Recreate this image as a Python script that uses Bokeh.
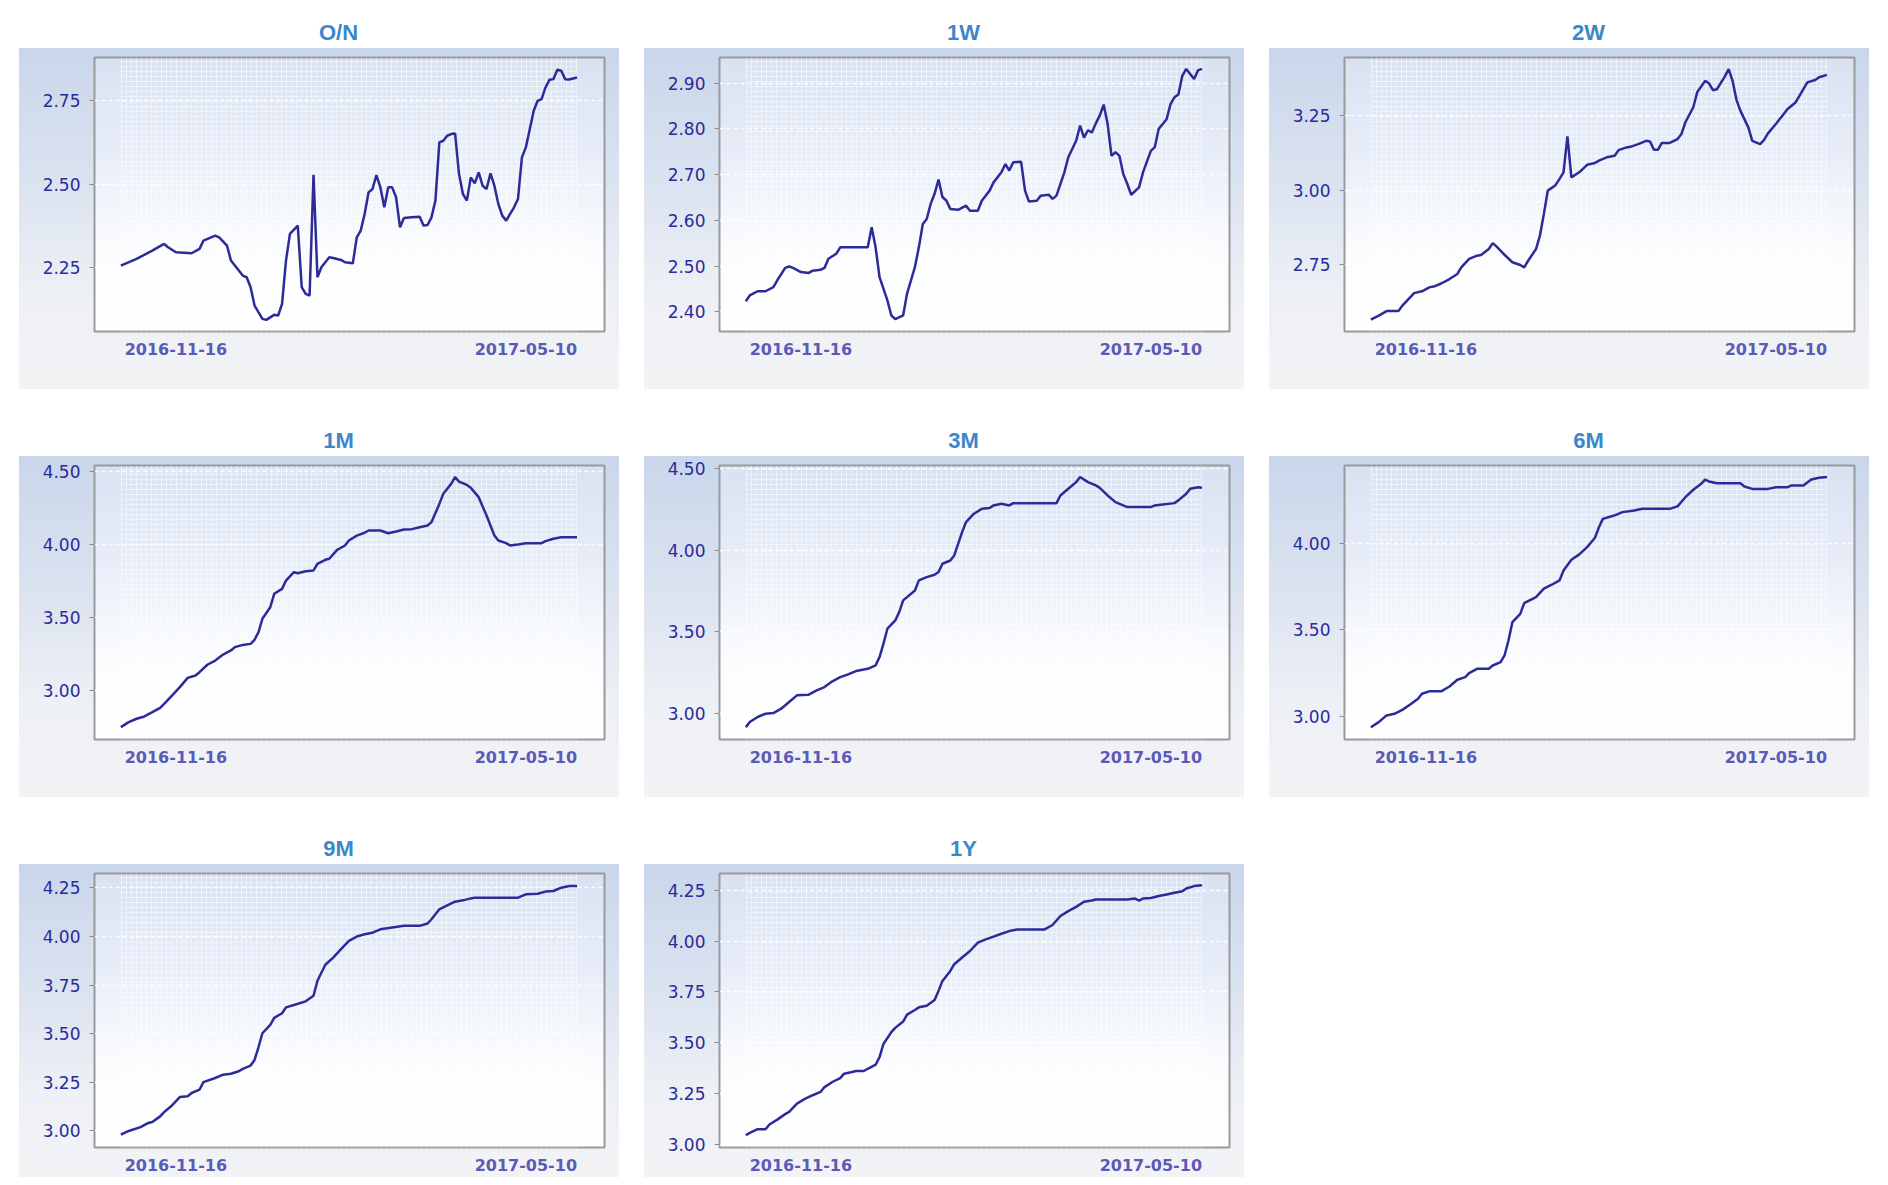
from bokeh.layouts import column, row
from bokeh.models import Range1d, FixedTicker, BoxAnnotation, NumeralTickFormatter
from bokeh.plotting import figure
from bokeh.embed import file_html
from bokeh.resources import INLINE

# ---------------- data ----------------
FIRST_DATE = "2016-11-16"
LAST_DATE = "2017-05-10"
LAST_DAY = 116  # trading-day index of 2017-05-10

on_day = [0, 4, 8, 11, 12, 14, 18, 20, 21, 24, 25, 27, 28, 30, 31, 32, 33, 34, 36, 37, 39, 40, 41, 42, 43, 45,
          46, 47, 48, 49, 50, 51, 53, 54, 56, 57, 59, 60, 61, 62, 63, 64, 65, 66, 67, 68, 69, 70, 71, 72, 74, 76,
          77, 78, 79, 80, 81, 82, 83, 84, 85, 86, 87, 88, 89, 90, 91, 92, 93, 94, 95, 96, 97, 98, 99, 100, 101,
          102, 103, 105, 106, 107, 108, 109, 110, 111, 112, 113, 114, 116]
on_val = [2.255, 2.275, 2.300, 2.320, 2.310, 2.295, 2.292, 2.305, 2.330, 2.345, 2.340, 2.315, 2.270, 2.240,
          2.225, 2.220, 2.190, 2.135, 2.095, 2.092, 2.107, 2.105, 2.140, 2.270, 2.350, 2.375, 2.190, 2.170,
          2.165, 2.528, 2.220, 2.250, 2.280, 2.278, 2.272, 2.265, 2.262, 2.340, 2.360, 2.410, 2.475, 2.485,
          2.527, 2.490, 2.430, 2.490, 2.490, 2.460, 2.370, 2.398, 2.400, 2.402, 2.375, 2.377, 2.400, 2.450,
          2.625, 2.630, 2.645, 2.650, 2.652, 2.530, 2.470, 2.450, 2.520, 2.502, 2.535, 2.495, 2.485, 2.532,
          2.495, 2.440, 2.405, 2.390, 2.410, 2.430, 2.455, 2.580, 2.610, 2.720, 2.750, 2.755, 2.790, 2.813,
          2.815, 2.843, 2.840, 2.815, 2.814, 2.820]

w1_day = [0, 1, 3, 5, 7, 8, 10, 11, 12, 14, 16, 17, 19, 20, 21, 23, 24, 26, 29, 31, 32, 33, 34, 36, 37, 38, 40,
          41, 43, 44, 45, 46, 47, 48, 49, 50, 51, 52, 54, 56, 57, 59, 60, 62, 63, 65, 66, 67, 68, 70, 71, 72, 74,
          75, 77, 78, 79, 81, 82, 84, 85, 86, 87, 88, 89, 90, 91, 92, 93, 94, 95, 96, 97, 98, 100, 101, 103, 104,
          105, 107, 108, 109, 110, 111, 112, 114, 115, 116]
w1_val = [2.423, 2.436, 2.445, 2.445, 2.454, 2.469, 2.496, 2.499, 2.496, 2.487, 2.485, 2.490, 2.492, 2.496,
          2.516, 2.527, 2.541, 2.541, 2.541, 2.541, 2.585, 2.541, 2.476, 2.425, 2.392, 2.384, 2.392, 2.440,
          2.498, 2.541, 2.592, 2.603, 2.636, 2.658, 2.689, 2.651, 2.643, 2.625, 2.623, 2.632, 2.621, 2.621,
          2.643, 2.665, 2.683, 2.705, 2.723, 2.709, 2.727, 2.728, 2.665, 2.641, 2.643, 2.654, 2.656, 2.647,
          2.654, 2.705, 2.738, 2.774, 2.807, 2.781, 2.797, 2.792, 2.812, 2.829, 2.853, 2.811, 2.741, 2.749,
          2.741, 2.701, 2.680, 2.656, 2.672, 2.705, 2.752, 2.760, 2.800, 2.821, 2.854, 2.869, 2.875, 2.916,
          2.931, 2.909, 2.928, 2.931]

w2_day = [0, 2, 4, 7, 8, 10, 11, 13, 15, 16, 18, 20, 22, 23, 25, 27, 28, 30, 31, 32, 34, 36, 38, 39, 40, 42, 43,
          44, 45, 46, 47, 48, 49, 50, 51, 53, 55, 57, 58, 60, 62, 63, 65, 66, 68, 70, 71, 72, 73, 74, 76, 78, 79,
          80, 82, 83, 85, 86, 87, 88, 90, 91, 92, 93, 94, 96, 97, 99, 100, 101, 103, 104, 106, 108, 109, 111,
          113, 114, 116]
w2_val = [2.568, 2.581, 2.596, 2.596, 2.614, 2.642, 2.656, 2.662, 2.676, 2.678, 2.689, 2.703, 2.720, 2.742,
          2.770, 2.781, 2.783, 2.803, 2.823, 2.811, 2.784, 2.759, 2.750, 2.742, 2.764, 2.803, 2.848, 2.920,
          2.998, 3.007, 3.017, 3.037, 3.059, 3.179, 3.042, 3.059, 3.084, 3.090, 3.098, 3.109, 3.114, 3.133,
          3.142, 3.144, 3.153, 3.164, 3.162, 3.134, 3.134, 3.157, 3.157, 3.170, 3.187, 3.226, 3.276, 3.326,
          3.364, 3.356, 3.333, 3.336, 3.378, 3.403, 3.364, 3.300, 3.264, 3.209, 3.164, 3.153, 3.167, 3.189,
          3.220, 3.237, 3.270, 3.292, 3.314, 3.359, 3.367, 3.376, 3.384]

m1_day = [0, 2, 4, 6, 8, 10, 11, 13, 15, 17, 19, 20, 22, 24, 26, 28, 29, 31, 33, 34, 35, 36, 38, 39, 41, 42, 44,
          45, 47, 49, 50, 52, 53, 55, 57, 58, 60, 62, 63, 66, 68, 70, 72, 74, 76, 78, 79, 81, 82, 84, 85, 86, 88,
          89, 91, 93, 95, 96, 98, 99, 101, 103, 107, 108, 110, 112, 116]
m1_val = [2.747, 2.781, 2.804, 2.820, 2.849, 2.879, 2.906, 2.963, 3.021, 3.084, 3.100, 3.123, 3.174, 3.203,
          3.244, 3.272, 3.295, 3.310, 3.317, 3.345, 3.397, 3.489, 3.568, 3.660, 3.694, 3.751, 3.808, 3.801,
          3.815, 3.820, 3.865, 3.893, 3.900, 3.961, 3.991, 4.025, 4.059, 4.078, 4.094, 4.094, 4.075, 4.087,
          4.100, 4.103, 4.116, 4.128, 4.151, 4.276, 4.345, 4.413, 4.459, 4.429, 4.406, 4.386, 4.322, 4.196,
          4.059, 4.025, 4.007, 3.991, 3.998, 4.007, 4.007, 4.021, 4.037, 4.048, 4.048]

m3_day = [0, 1, 3, 5, 7, 9, 11, 13, 16, 18, 20, 22, 24, 26, 28, 31, 33, 34, 35, 36, 38, 39, 40, 41, 43, 44, 46,
          48, 49, 50, 52, 53, 55, 56, 58, 60, 62, 63, 65, 67, 68, 71, 75, 79, 80, 82, 84, 85, 87, 89, 90, 92, 94,
          97, 100, 103, 104, 106, 109, 110, 112, 113, 115, 116]
m3_val = [2.914, 2.945, 2.976, 2.996, 3.000, 3.027, 3.068, 3.109, 3.113, 3.139, 3.160, 3.195, 3.221, 3.238,
          3.258, 3.272, 3.293, 3.344, 3.426, 3.518, 3.569, 3.620, 3.692, 3.712, 3.753, 3.815, 3.835, 3.849,
          3.866, 3.917, 3.937, 3.968, 4.111, 4.173, 4.224, 4.254, 4.259, 4.275, 4.285, 4.275, 4.289, 4.289,
          4.289, 4.289, 4.336, 4.377, 4.418, 4.449, 4.418, 4.398, 4.383, 4.336, 4.295, 4.265, 4.265, 4.265,
          4.275, 4.281, 4.289, 4.306, 4.347, 4.377, 4.387, 4.383]

m6_day = [0, 2, 4, 6, 8, 10, 12, 13, 15, 18, 20, 22, 24, 25, 27, 30, 31, 33, 34, 35, 36, 38, 39, 42, 44, 46, 48,
          49, 51, 53, 55, 57, 58, 59, 61, 62, 64, 67, 69, 73, 76, 78, 80, 82, 84, 85, 86, 88, 92, 94, 95, 97, 101,
          103, 106, 107, 110, 112, 114, 116]
m6_val = [2.938, 2.967, 3.006, 3.015, 3.038, 3.069, 3.102, 3.131, 3.146, 3.146, 3.173, 3.212, 3.227, 3.250,
          3.275, 3.275, 3.294, 3.313, 3.352, 3.438, 3.544, 3.592, 3.654, 3.688, 3.737, 3.760, 3.785, 3.842,
          3.904, 3.935, 3.977, 4.031, 4.092, 4.140, 4.154, 4.160, 4.179, 4.188, 4.198, 4.198, 4.198, 4.212,
          4.265, 4.308, 4.342, 4.367, 4.356, 4.346, 4.346, 4.346, 4.327, 4.313, 4.313, 4.323, 4.323, 4.333,
          4.333, 4.367, 4.377, 4.381]

m9_day = [0, 2, 5, 7, 8, 10, 11, 13, 15, 17, 18, 20, 21, 24, 26, 28, 30, 31, 33, 34, 35, 36, 38, 39, 41, 42, 44,
          47, 49, 50, 52, 54, 56, 58, 60, 62, 64, 66, 69, 72, 76, 78, 79, 81, 83, 85, 87, 89, 90, 94, 98, 101,
          103, 106, 108, 110, 112, 114, 116]
m9_val = [2.981, 3.000, 3.020, 3.041, 3.046, 3.075, 3.097, 3.131, 3.174, 3.178, 3.195, 3.212, 3.251, 3.272,
          3.289, 3.294, 3.307, 3.319, 3.336, 3.365, 3.430, 3.502, 3.545, 3.581, 3.605, 3.635, 3.647, 3.666,
          3.695, 3.772, 3.854, 3.891, 3.934, 3.977, 3.999, 4.011, 4.019, 4.036, 4.045, 4.054, 4.054, 4.066,
          4.088, 4.139, 4.159, 4.178, 4.185, 4.195, 4.199, 4.199, 4.199, 4.199, 4.216, 4.219, 4.230, 4.233,
          4.250, 4.259, 4.259]

y1_day = [0, 1, 3, 5, 6, 8, 10, 11, 13, 15, 17, 19, 20, 22, 24, 25, 27, 28, 30, 31, 33, 34, 35, 37, 38, 40, 41,
          43, 44, 46, 48, 49, 50, 52, 53, 55, 57, 59, 61, 63, 65, 67, 69, 73, 76, 78, 80, 82, 84, 86, 88, 89, 93,
          97, 99, 100, 101, 103, 105, 107, 109, 111, 112, 114, 116]
y1_val = [3.046, 3.057, 3.075, 3.075, 3.098, 3.122, 3.149, 3.160, 3.201, 3.224, 3.242, 3.258, 3.282, 3.307,
          3.326, 3.348, 3.356, 3.361, 3.361, 3.372, 3.392, 3.429, 3.494, 3.552, 3.573, 3.604, 3.638, 3.661,
          3.674, 3.682, 3.710, 3.755, 3.804, 3.853, 3.886, 3.919, 3.951, 3.992, 4.008, 4.022, 4.036, 4.049,
          4.057, 4.057, 4.057, 4.079, 4.123, 4.147, 4.168, 4.193, 4.199, 4.204, 4.204, 4.204, 4.209, 4.199,
          4.209, 4.212, 4.221, 4.229, 4.237, 4.245, 4.258, 4.270, 4.274]

titles = ["O/N", "1W", "2W", "1M", "3M", "6M", "9M", "1Y"]
y_lows = [2.057, 2.357, 2.528, 2.662, 2.838, 2.867, 2.915, 2.985]
y_highs = [2.880, 2.956, 3.442, 4.539, 4.520, 4.448, 4.323, 4.332]
y_ticks = [
    [2.25, 2.50, 2.75],
    [2.40, 2.50, 2.60, 2.70, 2.80, 2.90],
    [2.75, 3.00, 3.25],
    [3.00, 3.50, 4.00, 4.50],
    [3.00, 3.50, 4.00, 4.50],
    [3.00, 3.50, 4.00],
    [3.00, 3.25, 3.50, 3.75, 4.00, 4.25],
    [3.00, 3.25, 3.50, 3.75, 4.00, 4.25],
]
series_days = [on_day, w1_day, w2_day, m1_day, m3_day, m6_day, m9_day, y1_day]
series_vals = [on_val, w1_val, w2_val, m1_val, m3_val, m6_val, m9_val, y1_val]

# ---------------- layout / style ----------------
PAGE_MARGIN = 8
CELL_W = 625
ROW_H = 408
LAST_ROW_H = 353
FRAME_L, FRAME_W = 86, 510
FRAME_T, FRAME_H = 49, 274
PANEL_L, PANEL_T, PANEL_W, PANEL_H = 11, 40, 600, 341
X_START, X_END = -6.7, 123.0
PX_PER_DAY = FRAME_W / (X_END - X_START)
X_FIRST_TICK = round(55 / PX_PER_DAY)
X_LAST_TICK = LAST_DAY - round(52 / PX_PER_DAY)
LINE_COLOR = "#2b2b99"
TITLE_FONT_PX = 22
TITLE_CENTER_X = 330  # title centre, px from the cell's left edge
# Liberation Sans Bold advance widths (em) for the title glyphs
TITLE_EM = {"O": 0.778, "/": 0.278, "N": 0.722, "W": 0.944, "M": 0.833, "Y": 0.667,
            "1": 0.556, "2": 0.556, "3": 0.556, "6": 0.556, "9": 0.556}


def panel_styles(height):
    ph = min(PANEL_H, height - PANEL_T)
    return {
        "background-color": "#ffffff",
        "background-image": (
            "linear-gradient(to bottom, #d9e2f2 0%, #e7edf8 35%, #fbfcfe 70%, #ffffff 100%), "
            "linear-gradient(to bottom, #c9d6ea 0%, #dbe3f0 40%, #edf0f5 72%, #f3f3f5 100%)"
        ),
        "background-size": f"{FRAME_W}px {FRAME_H}px, {PANEL_W}px {ph}px",
        "background-position": f"{FRAME_L}px {FRAME_T}px, {PANEL_L}px {PANEL_T}px",
        "background-repeat": "no-repeat, no-repeat",
    }


def make_panel(i, height):
    p = figure(width=CELL_W, height=height,
               x_range=Range1d(X_START, X_END), y_range=Range1d(y_lows[i], y_highs[i]),
               output_backend="svg", toolbar_location=None, tools="",
               min_border_left=FRAME_L, min_border_right=CELL_W - FRAME_L - FRAME_W,
               min_border_top=FRAME_T, min_border_bottom=height - FRAME_T - FRAME_H,
               border_fill_color=None, background_fill_color=None,
               outline_line_color="#9a9a9a", outline_line_width=2,
               styles=panel_styles(height))

    # title
    tw = sum(TITLE_EM.get(c, 0.6) for c in titles[i]) * TITLE_FONT_PX
    p.title.text = titles[i]
    p.title.align = "left"
    p.title.offset = TITLE_CENTER_X - FRAME_L - tw / 2
    p.title.standoff = 22
    p.title.vertical_align = "top"
    p.title.text_font = "Liberation Sans"
    p.title.text_font_style = "bold"
    p.title.text_font_size = f"{TITLE_FONT_PX}px"
    p.title.text_color = "#3b88c8"

    # faint dotted texture over the data span
    p.add_layout(BoxAnnotation(left=0, right=LAST_DAY, fill_color=None, line_color=None,
                               hatch_pattern="+", hatch_color="white", hatch_alpha=0.45,
                               hatch_scale=5, hatch_weight=1, level="underlay"))

    p.line(series_days[i], series_vals[i], line_color=LINE_COLOR, line_width=2.5)

    ya = p.yaxis[0]
    ya.ticker = FixedTicker(ticks=y_ticks[i])
    ya.formatter = NumeralTickFormatter(format="0.00")
    ya.axis_line_color = None
    ya.major_tick_line_color = "#8d8d8d"
    ya.major_tick_out = 5
    ya.major_tick_in = 0
    ya.minor_tick_line_color = None
    ya.major_label_text_font = "DejaVu Sans"
    ya.major_label_text_font_size = "17px"
    ya.major_label_text_color = "#2a2a9c"
    ya.major_label_standoff = 9

    xa = p.xaxis[0]
    xa.ticker = FixedTicker(ticks=[X_FIRST_TICK, X_LAST_TICK])
    xa.major_label_overrides = {X_FIRST_TICK: FIRST_DATE, X_LAST_TICK: LAST_DATE}
    xa.axis_line_color = None
    xa.major_tick_line_color = None
    xa.minor_tick_line_color = None
    xa.major_tick_out = 0
    xa.major_tick_in = 0
    xa.major_label_text_font = "DejaVu Sans"
    xa.major_label_text_font_style = "bold"
    xa.major_label_text_font_size = "16px"
    xa.major_label_text_color = "#5a5ab9"
    xa.major_label_standoff = 11

    p.xgrid.visible = False
    p.ygrid.grid_line_color = "white"
    p.ygrid.grid_line_dash = "4 3"
    p.ygrid.grid_line_width = 1.5
    p.ygrid.grid_line_alpha = 0.9
    return p


panels = []
for i in range(8):
    h = LAST_ROW_H if i >= 6 else ROW_H
    panels.append(make_panel(i, h))

layout = column(row(panels[0], panels[1], panels[2]),
                row(panels[3], panels[4], panels[5]),
                row(panels[6], panels[7]),
                margin=(PAGE_MARGIN, 0, 0, PAGE_MARGIN))

open("out.html", "w").write(file_html(layout, INLINE))
